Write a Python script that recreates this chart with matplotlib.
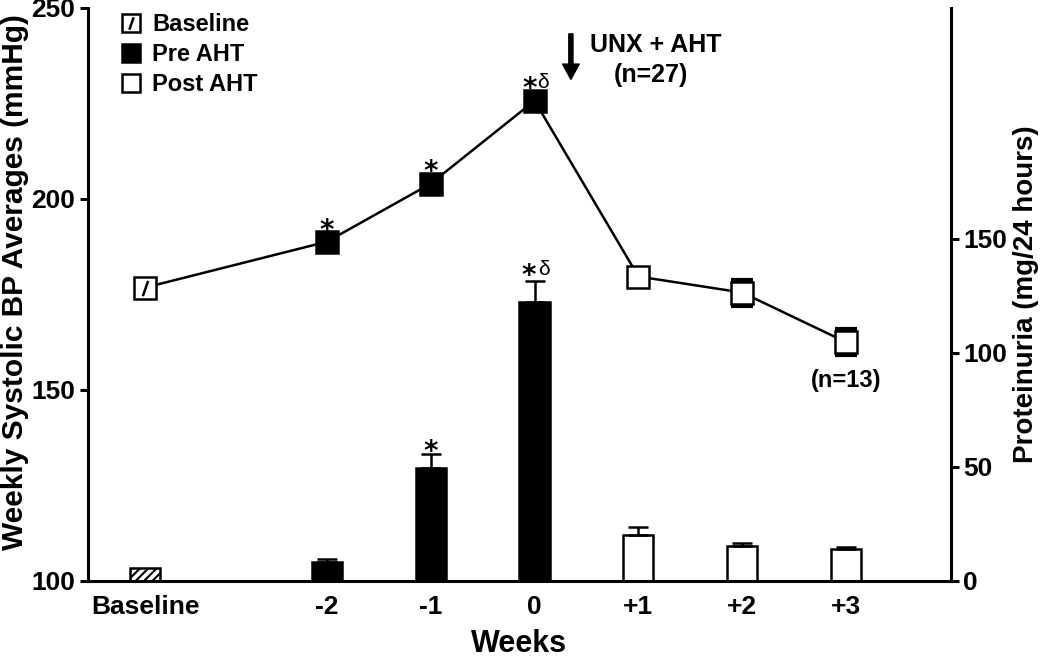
import matplotlib
matplotlib.use('Agg')
from matplotlib import pyplot as plt
from matplotlib.path import Path
from matplotlib.lines import Line2D
import numpy as np

plt.rcParams['font.family'] = ['Liberation Sans', 'DejaVu Sans']
plt.rcParams['hatch.linewidth'] = 1.5

# data
weeks = ['Baseline', '-2', '-1', '0', '+1', '+2', '+3']
week_pos = [-3.75, -2, -1, 0, 1, 2, 3]
groups = ['base', 'pre', 'pre', 'pre', 'post', 'post', 'post']

bp_mean = [176.8, 188.8, 204.0, 225.7, 179.7, 175.5, 162.5]
bp_err = [0, 0, 0, 0, 0, 3.4, 3.4]

prot_mean = [5.7, 8.3, 49.6, 122.0, 20.2, 15.4, 14.0]
prot_err = [0, 1.3, 6.1, 9.6, 3.5, 1.3, 0.9]

face = {'base': 'white', 'pre': 'black', 'post': 'white'}
lw = 1.8
slash = Path([(-0.35, -1.0), (0.35, 1.0)], [Path.MOVETO, Path.LINETO])

fig = plt.figure(figsize=(10.5, 6.6), dpi=100)
ax = fig.add_axes([0.0838, 0.1197, 0.8219, 0.8683])
ax2 = ax.twinx()

# proteinuria bars (right axis)
for x, v, e, g in zip(week_pos, prot_mean, prot_err, groups):
    ax2.bar(x, v, width=0.29, color=face[g], edgecolor='black', linewidth=lw,
            hatch='////' if g == 'base' else None)
    if e > 0:
        ax2.errorbar(x, v, yerr=[[0], [e]], fmt='none', ecolor='black',
                     elinewidth=lw, capsize=7, capthick=lw)

# blood pressure line (left axis)
ax.plot(week_pos, bp_mean, color='black', lw=lw, zorder=2)
for x, v, e, g in zip(week_pos, bp_mean, bp_err, groups):
    if e > 0:
        ax.errorbar(x, v, yerr=e, fmt='none', ecolor='black', elinewidth=lw,
                    capsize=7.8, capthick=3, zorder=3)
    ax.plot(x, v, marker='s', ms=15.5, mfc=face[g], mec='black', mew=lw,
            ls='none', zorder=4)
    if g == 'base':
        ax.plot(x, v, marker=slash, ms=11, mec='black', mew=lw, ls='none', zorder=5)

ax.set_zorder(ax2.get_zorder() + 1)
ax.patch.set_visible(False)

ax.set_xlim(-4.30, 4.01)
ax.set_ylim(100, 250)
ax2.set_ylim(0, 251)
ax.set_yticks([100, 150, 200, 250])
ax2.set_yticks([0, 50, 100, 150])
ax.set_xticks(week_pos)
ax.set_xticklabels(weeks)

for s in ['top', 'right']:
    ax.spines[s].set_visible(False)
for s in ['top', 'left', 'bottom']:
    ax2.spines[s].set_visible(False)
ax.spines['left'].set_linewidth(2.2)
ax.spines['bottom'].set_linewidth(2.2)
ax2.spines['right'].set_linewidth(2.2)

ax.tick_params(axis='y', length=6, width=2.2, pad=3, labelsize=19)
ax.tick_params(axis='x', length=0, pad=10, labelsize=19)
ax2.tick_params(axis='y', length=6, width=2.2, pad=3, labelsize=19)
for t in ax.get_xticklabels() + ax.get_yticklabels() + ax2.get_yticklabels():
    t.set_fontweight('bold')

ax.set_ylabel('Weekly Systolic BP Averages (mmHg)', fontsize=21.5,
              fontweight='bold', labelpad=2)
ax.yaxis.label.set_y(0.522)
ax2.set_ylabel('Proteinuria (mg/24 hours)', fontsize=20, fontweight='bold',
               labelpad=4)
ax.set_xlabel('Weeks', fontsize=22, fontweight='bold', labelpad=7)


# significance marks, offsets in pixels from the point / error cap
def star(a, x, y, dx, dy):
    a.annotate('*', xy=(x, y), xytext=(dx, dy), textcoords='offset pixels',
               ha='center', va='center', fontsize=20, fontweight='bold',
               family='DejaVu Sans')


def delta(a, x, y, dx, dy):
    a.annotate('\u03b4', xy=(x, y), xytext=(dx, dy), textcoords='offset pixels',
               ha='center', va='center', fontsize=15)


star(ax, -2, bp_mean[1], 0, 10.7)
star(ax, -1, bp_mean[2], 0, 11.7)
star(ax, 0, bp_mean[3], -5, 11.7)
delta(ax, 0, bp_mean[3], 8, 18)
star(ax2, 0, prot_mean[3] + prot_err[3], -6, 4.7)
delta(ax2, 0, prot_mean[3] + prot_err[3], 9, 11)
star(ax2, -1, prot_mean[2] + prot_err[2], 0, 1.7)

ax.annotate('', xy=(0.35, 231.3), xytext=(0.35, 243.2),
            arrowprops=dict(facecolor='black', edgecolor='black', width=3,
                            headwidth=12, headlength=11))
ax.text(1.17, 240.3, 'UNX + AHT', ha='center', va='center', fontsize=18,
        fontweight='bold')
ax.text(1.12, 232.4, '(n=27)', ha='center', va='center', fontsize=18,
        fontweight='bold')
ax.text(3, 152.6, '(n=13)', ha='center', va='center', fontsize=17,
        fontweight='bold')

base_h = (Line2D([], [], marker='s', ls='none', ms=12.5, mfc='white', mec='black', mew=lw),
          Line2D([], [], marker=slash, ls='none', ms=9, mec='black', mew=lw))
pre_h = Line2D([], [], marker='s', ls='none', ms=12.5, mfc='black', mec='black', mew=lw)
post_h = Line2D([], [], marker='s', ls='none', ms=12.5, mfc='white', mec='black', mew=lw)
ax.legend([base_h, pre_h, post_h], ['Baseline', 'Pre AHT', 'Post AHT'],
          loc='upper left', bbox_to_anchor=(0.03, 1.0), frameon=False,
          prop=dict(weight='bold', size=17), handlelength=1.0,
          handletextpad=0.4, labelspacing=0.3, borderpad=0.22, borderaxespad=0.)

fig.savefig('out.png', dpi=100)
